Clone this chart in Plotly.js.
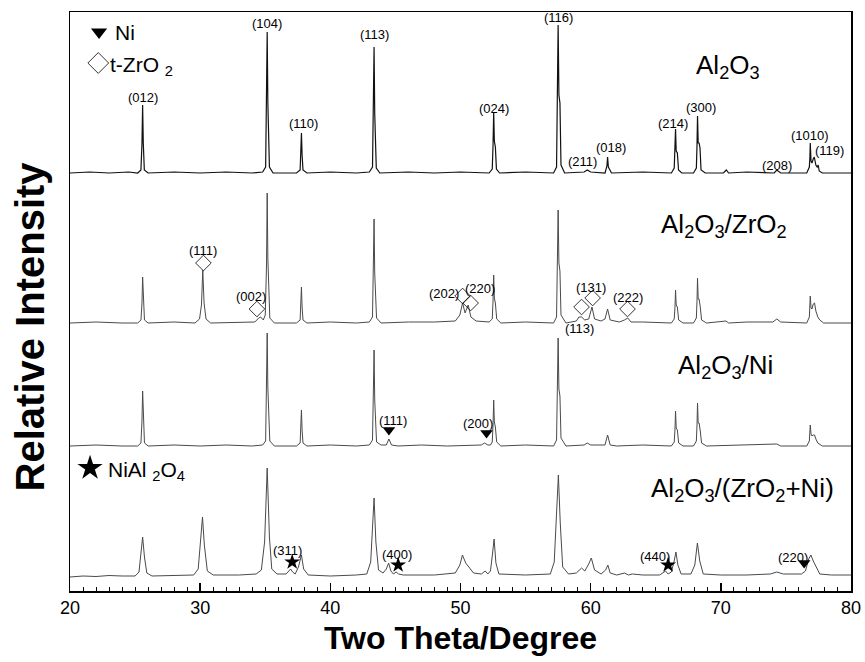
<!DOCTYPE html>
<html><head><meta charset="utf-8">
<script src="https://cdn.plot.ly/plotly-3.0.1.min.js"></script>
<style>html,body{margin:0;padding:0;background:#fff}</style>
</head><body><div id="chart" style="width:865px;height:662px"></div>
<script>
// ---- Data: [2theta (deg), relative intensity above each pattern's own baseline] ----
const al2o3 = [
[20,0],[21.5,1],[23,0],[24.5,1],[25.2,0],[25.45,3],[25.53,30],[25.58,68],[25.63,30],[25.71,3],[26,0],
[28,1],[30,0],[32,1],[34,0],[34.8,1],[35.03,6],[35.1,60],[35.15,141],[35.2,70],[35.26,30],[35.32,6],[35.6,0],
[37.4,0],[37.68,3],[37.74,18],[37.78,40],[37.83,18],[37.9,3],[38.2,0],[40,1],[42,0],[43,1],
[43.24,6],[43.31,55],[43.36,126],[43.41,60],[43.47,25],[43.53,5],[43.8,0],[46,1],[48,0],[50,1],
[52.2,0],[52.44,4],[52.5,28],[52.55,61],[52.6,32],[52.68,26],[52.76,4],[53,0],[55,1],
[57.15,0],[57.38,6],[57.45,65],[57.5,148],[57.56,78],[57.64,70],[57.72,8],[58,0],[59.5,1],[59.74,3],[60,1],
[61.1,0],[61.25,7],[61.3,16],[61.36,6],[61.6,0],[64,1],
[66.2,0],[66.42,5],[66.48,22],[66.52,44],[66.57,22],[66.66,20],[66.75,3],[67,0],
[67.9,0],[68.12,5],[68.17,28],[68.21,57],[68.26,30],[68.33,30],[68.4,25],[68.48,3],[68.8,0],
[70.2,0],[70.42,3],[70.6,0],[72,1],[74.1,0],[74.3,3],[74.6,0],
[76.6,0],[76.8,6],[76.84,15],[76.87,30],[76.93,12],[77,10],[77.1,14],[77.18,16],[77.3,8],[77.4,6],[77.48,8],[77.56,2],[77.8,0],[80,0]
];
const al2o3_zro2 = [
[20,0],[22,1],[24,0],[25.2,0],[25.45,3],[25.53,20],[25.58,46],[25.64,20],[25.72,3],[26,0],
[28,1],[29.6,0],[29.95,4],[30.1,18],[30.2,53],[30.3,20],[30.45,4],[30.8,0],[33,1],
[34.2,1],[34.5,5],[34.65,6],[34.85,3],[35,8],[35.1,60],[35.15,130],[35.2,65],[35.27,25],[35.35,5],[35.7,0],
[37.4,0],[37.68,3],[37.74,16],[37.78,36],[37.83,16],[37.9,3],[38.2,0],[40,1],[42,0],[43,1],
[43.24,6],[43.31,48],[43.36,104],[43.41,50],[43.47,20],[43.55,5],[43.9,0],[46,1],[48,1],
[49.6,2],[49.95,8],[50.16,20],[50.35,10],[50.59,18],[50.8,6],[51.2,2],
[52.2,1],[52.44,4],[52.5,22],[52.55,48],[52.6,25],[52.68,20],[52.78,4],[53.1,0],[55,1],
[57.15,0],[57.38,6],[57.45,50],[57.5,113],[57.56,60],[57.64,52],[57.72,8],[58.1,0],
[58.9,2],[59.1,6],[59.3,6],[59.55,3],[59.85,4],[60.1,16],[60.3,4],[60.8,2],[61.1,4],[61.3,14],[61.5,3],
[62.2,1],[62.6,3],[62.85,5],[63.1,1],[64,1],
[66.2,0],[66.42,4],[66.48,16],[66.52,33],[66.57,18],[66.66,16],[66.76,3],[67.1,0],
[67.9,0],[68.12,5],[68.17,22],[68.21,45],[68.26,24],[68.33,24],[68.42,16],[68.52,3],[68.9,0],
[70.4,2],[70.6,0],[72,1],[74,1],[74.3,4],[74.6,1],
[76.6,0],[76.8,6],[76.84,14],[76.87,27],[76.93,15],[77,14],[77.1,19],[77.2,20],[77.3,12],[77.45,6],[77.6,3],[77.9,0],[80,0]
];
const al2o3_ni = [
[20,0],[22,1],[24,0],[25.2,0],[25.45,3],[25.53,25],[25.58,55],[25.64,25],[25.72,3],[26,0],
[28,1],[30,0],[32,1],[34,0],[34.8,1],[35.03,5],[35.1,50],[35.15,113],[35.2,58],[35.27,22],[35.35,5],[35.7,0],
[37.4,0],[37.68,3],[37.74,16],[37.78,36],[37.83,16],[37.9,3],[38.2,0],[40,1],[42,0],[43,1],
[43.24,6],[43.31,44],[43.36,96],[43.41,46],[43.47,18],[43.55,4],[43.9,1],[44.3,1],[44.5,7],[44.7,1],[45.2,0],
[47,1],[49,0],[51.6,1],[51.85,3],[52.1,1],[52.3,1],
[52.44,4],[52.5,21],[52.55,46],[52.6,24],[52.68,19],[52.78,4],[53.1,0],[55,1],
[57.15,0],[57.38,6],[57.45,48],[57.5,108],[57.56,57],[57.64,50],[57.72,8],[58.1,0],[59.5,1],[59.74,3],[60,1],
[61.1,1],[61.3,11],[61.5,1],[62,0],[64,1],
[66.2,0],[66.42,4],[66.48,17],[66.52,35],[66.57,18],[66.66,16],[66.76,3],[67.1,0],
[67.9,0],[68.12,5],[68.17,21],[68.21,43],[68.26,23],[68.33,23],[68.42,15],[68.52,3],[68.9,0],
[72,1],[74.3,2],[74.6,0],
[76.6,0],[76.8,5],[76.84,11],[76.87,21],[76.93,12],[77,10],[77.1,11],[77.2,11],[77.3,7],[77.45,3],[77.8,0],[80,0]
];
const al2o3_zro2_ni = [
[20,0],[21,1],[22,0.5],[23,1.5],[24,1],[25,1],[25.3,5],[25.45,22],[25.58,40],[25.72,20],[25.9,4],[26.3,1],
[28,1.5],[29.5,2],[29.85,8],[30.05,35],[30.18,60],[30.32,32],[30.55,6],[31,2],[33,2],
[34.3,3],[34.7,7],[34.95,35],[35.15,109],[35.32,40],[35.5,8],[35.9,3],
[36.6,3],[36.95,8],[37.1,5],[37.3,3],[37.55,10],[37.78,22],[37.95,8],[38.3,2],[40,1],[42,2],
[42.8,3],[43.1,15],[43.25,50],[43.36,79],[43.5,35],[43.7,7],[44.05,4],[44.3,8],[44.48,14],[44.65,6],[44.85,3],[45.05,5],[45.25,3],[45.6,2],
[48,2],[49.6,4],[49.95,12],[50.15,22],[50.4,14],[50.7,9],[51,4],[51.6,3],[51.9,6],[52.1,3],
[52.3,6],[52.45,22],[52.58,38],[52.72,14],[52.95,3],[55,2],
[56.9,3],[57.2,15],[57.4,70],[57.52,102],[57.66,55],[57.85,10],[58.3,3],
[58.9,4],[59.3,9],[59.55,6],[59.85,13],[60.05,19],[60.3,7],[60.8,3],[61.15,7],[61.32,12],[61.5,4],[62,2],
[62.6,4],[62.9,2],[63.2,3],[64,2],[65.3,2],[65.75,6],[65.95,3],
[66.2,5],[66.4,15],[66.55,25],[66.7,12],[66.95,3],[67.7,3],[68,12],[68.2,34],[68.38,16],[68.65,3],
[70,2],[72,2],[73.8,3],[74.3,5],[74.8,3],[76.2,3],[76.5,6],[76.75,18],[76.92,22],[77.1,16],[77.35,10],[77.6,3],[78.5,2],[80,2]
];

const sampleNames = [
  'Al<sub>2</sub>O<sub>3</sub>',
  'Al<sub>2</sub>O<sub>3</sub>/ZrO<sub>2</sub>',
  'Al<sub>2</sub>O<sub>3</sub>/Ni',
  'Al<sub>2</sub>O<sub>3</sub>/(ZrO<sub>2</sub>+Ni)'
];
const xTickLabels = ['20','30','40','50','60','70','80'];

// Peak (hkl) labels
const al2o3Hkl = ['(012)','(104)','(110)','(113)','(024)','(116)','(211)','(018)','(214)','(300)','(208)','(1010)','(119)'];
const al2o3HklX = [25.58,35.15,37.9,43.36,52.6,57.5,59.35,61.6,66.29,68.44,74.28,76.84,78.37];
const zro2Hkl = ['(111)','(002)','(202)','(220)','(131)','(113)','(222)'];
const zro2HklX = [30.21,33.9,48.72,51.49,59.99,59.17,62.86];
const zro2MarkX = [30.25,34.36,50.16,50.78,60.15,59.3,62.83];
const niHkl = ['(111)','(200)'];
const niHklX = [44.81,51.34];
const niMarkX = [44.5,52.0];
const spinelHkl = ['(311)','(400)','(440)'];
const spinelHklX = [36.74,45.09,64.93];
const spinelMarkX = [37.07,45.21,65.95];
const ni4Hkl = ['(220)'];
const ni4HklX = [75.53];
const ni4MarkX = [76.4];

// ---- Layout positions (y in axis units, 0 = bottom of frame) ----
const offsets = [418, 268, 145, 14];
const al2o3HklY = [494,568,468,557,483,574,430,444,468,484,426,456,441];
const zro2HklY = [341,295,298,303,304,263,294];
const zro2MarkY = [328,282,295,288,293,284,282];
const niHklY = [171,168];
const niMarkY = [161,158];
const spinelHklY = [41,37,35];
const spinelMarkY = [29,26,26];
const ni4HklY = [34];
const ni4MarkY = [28];

const FONT = 'Liberation Sans, Arial, Helvetica, sans-serif';
const patterns = [al2o3, al2o3_zro2, al2o3_ni, al2o3_zro2_ni];
const lineColors = ['#111111', '#4a4a4a', '#4a4a4a', '#4a4a4a'];
const lineWidths = [1.2, 1, 1, 1];

const traces = patterns.map((p, i) => ({
  type: 'scatter', mode: 'lines',
  x: p.map(d => d[0]), y: p.map(d => d[1] + offsets[i]),
  line: {color: lineColors[i], width: lineWidths[i]},
  hoverinfo: 'skip', showlegend: false
}));

function markers(xs, ys, symbol, size, lw) {
  return {type: 'scatter', mode: 'markers', x: xs, y: ys, hoverinfo: 'skip', showlegend: false,
    marker: {symbol: symbol, size: size, color: '#000', line: {color: '#000', width: lw}}};
}
traces.push(markers(zro2MarkX, zro2MarkY, 'diamond-open', 12, 0.8));
traces.push(markers(niMarkX, niMarkY, 'triangle-down', 11, 0));
traces.push(markers(ni4MarkX, ni4MarkY, 'triangle-down', 11, 0));
traces.push(markers(spinelMarkX, spinelMarkY, 'star', 12, 0));
// key symbols
traces.push(markers([22.23], [559], 'triangle-down', 14, 0));
traces.push(markers([22.17], [528], 'diamond-open', 16, 0.8));
traces.push(markers([21.54], [123], 'star', 19, 0));

const annotations = [];
function addLabels(texts, xs, ys, size) {
  texts.forEach((t, k) => annotations.push({text: t, x: xs[k], y: ys[k], xref: 'x', yref: 'y',
    showarrow: false, xanchor: 'center', yanchor: 'middle', font: {family: FONT, size: size, color: '#000'}}));
}
addLabels(al2o3Hkl, al2o3HklX, al2o3HklY, 13);
addLabels(zro2Hkl, zro2HklX, zro2HklY, 13);
addLabels(niHkl, niHklX, niHklY, 13);
addLabels(spinelHkl, spinelHklX, spinelHklY, 13);
addLabels(ni4Hkl, ni4HklX, ni4HklY, 13);
addLabels(sampleNames, [70.54, 70.23, 70.38, 71.69], [525, 366, 225, 102], 26);

function addKey(text, x, y) {
  annotations.push({text: text, x: x, y: y, xref: 'x', yref: 'y', showarrow: false,
    xanchor: 'left', yanchor: 'middle', font: {family: FONT, size: 21, color: '#000'}});
}
addKey('Ni', 23.3, 559);
addKey('t-ZrO <sub>2</sub>', 22.95, 525);
addKey('NiAl <sub>2</sub>O<sub>4</sub>', 22.8, 120);

// y-axis title, drawn as a rotated annotation so it can sit where the reference has it
annotations.push({text: '<b>Relative Intensity</b>', xref: 'paper', yref: 'paper',
  x: -0.0512, y: 0.457, xanchor: 'center', yanchor: 'middle', textangle: -90, showarrow: false,
  font: {family: FONT, size: 40, color: '#000'}});

const layout = {
  width: 865, height: 662,
  margin: {l: 70, r: 14, t: 12, b: 71},
  paper_bgcolor: '#fff', plot_bgcolor: '#fff',
  font: {family: FONT, color: '#000'},
  xaxis: {
    range: [20, 80], tickvals: [20,30,40,50,60,70,80], ticktext: xTickLabels,
    ticks: 'inside', ticklen: 8, tickwidth: 1.5, tickcolor: '#000',
    minor: {dtick: 1, tick0: 20, ticks: 'inside', ticklen: 4, tickwidth: 1, tickcolor: '#000', showgrid: false},
    showline: true, linewidth: 1.5, linecolor: '#000', mirror: true,
    showgrid: false, zeroline: false,
    tickfont: {family: FONT, size: 18, color: '#000'},
    title: {text: '<b>Two Theta/Degree</b>', font: {family: FONT, size: 32, color: '#000'}, standoff: 9}
  },
  yaxis: {
    range: [0, 579], showticklabels: false, ticks: '',
    showline: true, linewidth: 1.5, linecolor: '#000', mirror: true,
    showgrid: false, zeroline: false
  },
  annotations: annotations,
  showlegend: false
};

Plotly.newPlot('chart', traces, layout, {staticPlot: true, displayModeBar: false});
</script>
</body></html>
